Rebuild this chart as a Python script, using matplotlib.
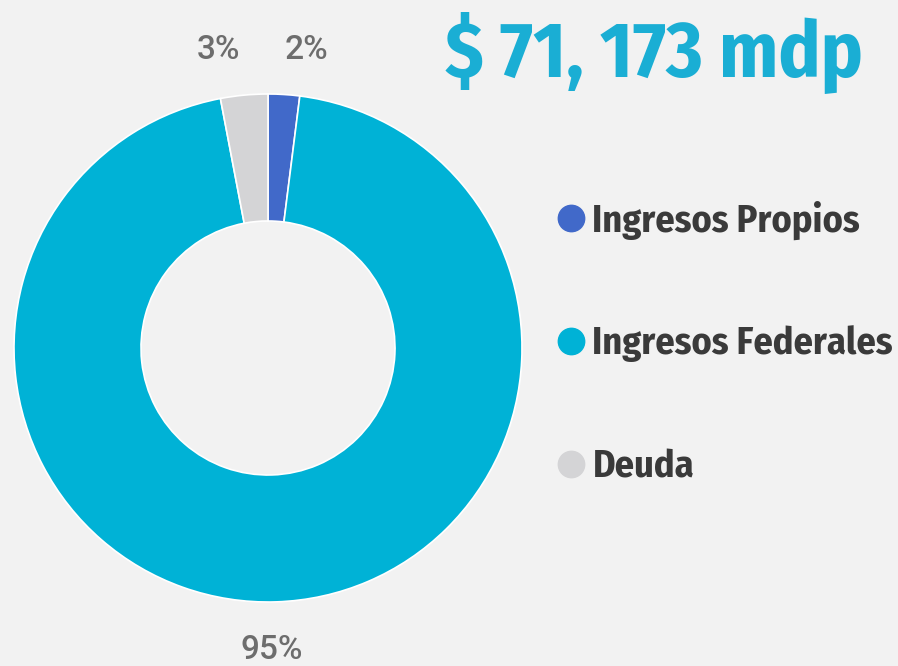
import matplotlib
matplotlib.use("Agg")
import matplotlib.pyplot as plt
from matplotlib.lines import Line2D

categorias = ["Ingresos Propios", "Ingresos Federales", "Deuda"]
porcentajes = [2, 95, 3]
colores = ["#4169c9", "#00b2d6", "#d4d4d6"]
titulo = "$ 71, 173 mdp"

bg = "#f2f2f2"
cond = ["Fira Sans Condensed", "DejaVu Sans"]

W, H = 898, 666
fig = plt.figure(figsize=(W / 100, H / 100), dpi=100, facecolor=bg)
ax = fig.add_axes([0, 0, 1, 1])
ax.set_facecolor(bg)

cx, cy, R = 268, H - 348, 254
wedges, _ = ax.pie(porcentajes, colors=colores, startangle=90, counterclock=False,
                   center=(cx, cy), radius=R, frame=True,
                   wedgeprops=dict(width=R / 2, edgecolor="white", linewidth=1.2))
ax.set_xlim(0, W)
ax.set_ylim(0, H)
ax.set_aspect("equal")
ax.axis("off")

# etiquetas de porcentaje
lab_font = dict(fontsize=24, color="#6d6d6d", family=["Roboto", "DejaVu Sans"],
                fontweight="medium", ha="center", va="center")
ax.text(306, H - 50, f"{porcentajes[0]}%", **lab_font)
ax.text(218, H - 50, f"{porcentajes[2]}%", **lab_font)
ax.text(272, H - 650, f"{porcentajes[1]}%", **lab_font)

ax.text(445, H - 53, titulo, fontsize=56, fontweight="bold", color="#1aaed4",
        family=cond, ha="left", va="center")

handles = [Line2D([], [], marker="o", linestyle="none", markersize=19,
                  markerfacecolor=c, markeredgecolor=c) for c in colores]
leg = ax.legend(handles, categorias, loc="upper left", bbox_to_anchor=(518 / W, 1 - 166 / H),
                frameon=False, handletextpad=0.05, handlelength=1.0, labelspacing=2.25,
                prop=dict(family=cond, weight="bold", size=27.5))
for t in leg.get_texts():
    t.set_color("#3a3a3a")

fig.savefig("out.png", dpi=100, facecolor=bg)
